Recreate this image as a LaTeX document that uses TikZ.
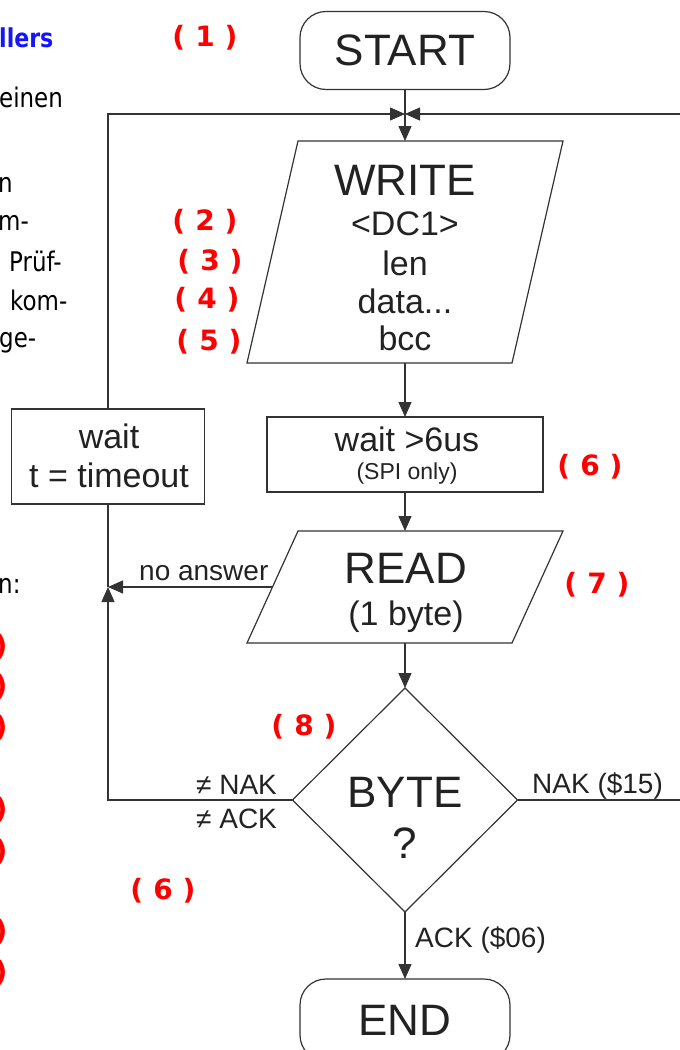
\documentclass[tikz,border=0pt]{standalone}
\usepackage{fontspec}
\setmainfont{Liberation Sans}
\newfontfamily\handfont{DejaVu Sans}
\newfontfamily\pagefont[FakeStretch=0.85]{DejaVu Sans}
\usetikzlibrary{shapes.geometric,arrows.meta}
\definecolor{ink}{HTML}{333333}
\definecolor{txt}{HTML}{222222}
\definecolor{tagred}{HTML}{FF0000}
\definecolor{headblue}{HTML}{1414FF}
\newcommand\steptag[1]{(\hspace{10pt}#1\hspace{10pt})}
% outline of a slanted input/output box around a rectangle node
\newcommand\slantbox[2]{%
  \draw[line] ([xshift=-#2]#1.south west) -- ([xshift=#2]#1.north west)
    -- ([xshift=#2]#1.north east) -- ([xshift=-#2]#1.south east) -- cycle;}

\begin{document}
\begin{tikzpicture}[x=1pt,y=-1pt,
  line/.style={draw=ink,line width=1.2pt,line join=miter},
  flow/.style={line,-{Triangle[length=15pt,width=13pt]}},
  shapebox/.style={line,inner sep=0pt,outer sep=0pt},
  terminal/.style={shapebox,rectangle,rounded corners=26pt,minimum width=210pt,
    minimum height=78pt,text=txt,font=\fontsize{44}{44}\selectfont},
  iobox/.style={rectangle,inner sep=0pt,outer sep=0pt,minimum width=265pt},
  procbox/.style={shapebox,rectangle},
  decision/.style={shapebox,diamond,minimum width=225pt,minimum height=224pt},
  bigtxt/.style={anchor=base,inner sep=0pt,text=txt,font=\fontsize{44}{44}\selectfont},
  midtxt/.style={anchor=base,inner sep=0pt,text=txt,font=\fontsize{34}{34}\selectfont},
  smallertxt/.style={anchor=base,inner sep=0pt,text=txt,font=\fontsize{23}{23}\selectfont},
  smalltxt/.style={anchor=base west,inner sep=0pt,text=txt,font=\fontsize{28}{28}\selectfont},
  tag/.style={inner sep=0pt,text=tagred,font=\handfont\bfseries\fontsize{28}{28}\selectfont},
  pagetxt/.style={anchor=base west,inner sep=0pt,text=black,font=\pagefont\fontsize{27}{27}\selectfont},
]
\useasboundingbox (0,0) rectangle (680,1050);
\clip (0,0) rectangle (680,1050);

% ---- flowchart shapes
\node[terminal] (start) at (405,50.5) {START};
\node[iobox,minimum height=222pt] (write) at (405,252) {};
\slantbox{write}{25.5pt}
\node[procbox,minimum width=276pt,minimum height=75pt] (pause) at (405,454.5) {};
\node[procbox,minimum width=193pt,minimum height=95pt] (timeout) at (108,456.5) {};
\node[iobox,minimum height=112pt] (read) at (405,587) {};
\slantbox{read}{25.5pt}
\node[decision] (byte) at (405,800) {};
\node[terminal,minimum height=82pt] (end) at (405,1020) {END};

% ---- texts inside the shapes
\node[bigtxt] (write-t) at (405,195) {WRITE};
\node[midtxt] (write-a) at (405,235) {<DC1>};
\node[midtxt] (write-b) at (405,275) {len};
\node[midtxt] (write-c) at (405,313) {data...};
\node[midtxt] (write-d) at (405,350) {bcc};
\node[midtxt] (pause-a) at (407,451) {wait >6us};
\node[smallertxt] (pause-b) at (407,479) {(SPI only)};
\node[midtxt] (timeout-a) at (109,448) {wait};
\node[midtxt] (timeout-b) at (109,487) {t = timeout};
\node[bigtxt] (read-a) at (406,583) {READ};
\node[midtxt] (read-b) at (406,625) {(1 byte)};
\node[bigtxt] (byte-a) at (405,807) {BYTE};
\node[bigtxt] (byte-b) at (405,858) {?};

% ---- connectors
\coordinate (merge) at (405,114);
\coordinate (loopR) at (700,114);
\coordinate (join) at (108,587);
\draw[flow] (start.south) -- (write.north);
\draw[flow] (write.south) -- (pause.north);
\draw[flow] (pause.south) -- (read.north);
\draw[flow] (read.south) -- (byte.north);
\draw[flow] (byte.south) -- (end.north);
\draw[flow] (read.west) -- (join);
\draw[flow] (byte.west) -| (join);
\draw[line] (join) -- (timeout.south);
\draw[flow] (timeout.north) |- (merge);
\draw[flow] (byte.east) -| (loopR) -- (merge);

% ---- branch labels
\node[smalltxt] (lbl-noans) at (139,580) {no answer};
\node[smalltxt] (lbl-nnak) at (196,794) {≠ NAK};
\node[smalltxt] (lbl-nack) at (196,828) {≠ ACK};
\node[smalltxt] (lbl-nak) at (532,793) {NAK (\$15)};
\node[smalltxt] (lbl-ack) at (415,947) {ACK (\$06)};

% ---- step numbers
\node[tag] (tag1) at (205,38) {\steptag{1}};
\node[tag] (tag2) at (205,222) {\steptag{2}};
\node[tag] (tag3) at (210,262) {\steptag{3}};
\node[tag] (tag4) at (207,300) {\steptag{4}};
\node[tag] (tag5) at (209,342) {\steptag{5}};
\node[tag] (tag6) at (590,467) {\steptag{6}};
\node[tag] (tag7) at (597,585) {\steptag{7}};
\node[tag] (tag8) at (304,727) {\steptag{8}};
\node[tag] (tag6b) at (163,891) {\steptag{6}};

% ---- running text at the left margin
\node[pagetxt,text=headblue,font=\pagefont\bfseries\fontsize{26}{26}\selectfont] (p0) at (-1,47) {llers};
\node[pagetxt] (p1) at (-1,107) {einen};
\node[pagetxt] (p2) at (-2,192) {n};
\node[pagetxt] (p3) at (-2,230) {m-};
\node[pagetxt] (p4) at (9,271) {Prüf-};
\node[pagetxt] (p5) at (10,310) {kom-};
\node[pagetxt] (p6) at (-1,347) {ge-};
\node[pagetxt] (p7) at (-2,593) {n:};
\foreach \yy [count=\i] in {647,687,728,810,852,932,973}
  \node[tag] (pr\i) at (1,\yy) {)};
\end{tikzpicture}
\end{document}
